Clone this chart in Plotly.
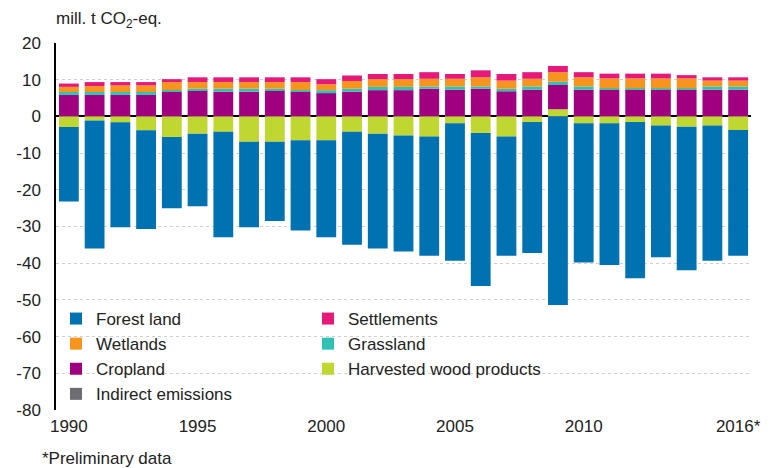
import plotly.graph_objects as go

years = list(range(1990, 2017))
tick_years = [1990, 1995, 2000, 2005, 2010, 2016]
tick_text = ["1990", "1995", "2000", "2005", "2010", "2016*"]
y_ticks = [20, 10, 0, -10, -20, -30, -40, -50, -60, -70, -80]
y_tick_text = ["20", "10", "0", "-10", "-20", "-30", "-40", "-50", "-60", "-70", "-80"]

forest_land = [-20.3, -34.9, -28.6, -26.9, -19.4, -19.8, -28.7, -23.3, -21.6, -24.6,
               -26.4, -30.8, -31.3, -31.6, -32.5, -37.4, -41.7, -32.5, -35.7, -51.4,
               -37.9, -38.6, -42.6, -35.9, -39.1, -36.8, -34.3]
settlements = [0.9, 1.1, 0.9, 0.9, 0.8, 1.3, 1.3, 1.3, 1.3, 1.3,
               1.4, 1.5, 1.4, 1.4, 1.8, 1.3, 1.9, 1.8, 1.8, 1.7,
               1.4, 1.3, 1.3, 1.3, 0.9, 0.9, 0.9]
wetlands = [1.4, 1.6, 1.8, 1.8, 2.2, 1.8, 1.8, 1.8, 1.8, 2.2,
            1.6, 2.1, 2.1, 2.1, 2.1, 2.1, 2.5, 2.2, 2.1, 2.6,
            2.5, 2.7, 2.7, 2.7, 2.7, 1.6, 1.6]
grassland = [0.8, 0.8, 0.8, 0.8, 0.5, 0.4, 0.8, 0.8, 0.4, 0.4,
             0.8, 0.8, 0.9, 0.9, 0.6, 0.9, 0.6, 0.7, 0.9, 0.9,
             0.9, 0.4, 0.4, 0.4, 0.4, 0.9, 0.9]
cropland = [5.8, 5.8, 5.8, 5.8, 6.6, 7.1, 6.7, 6.7, 7.1, 6.7,
            6.3, 6.7, 7.1, 7.1, 7.5, 7.2, 7.5, 6.8, 7.2, 6.6,
            7.2, 7.2, 7.2, 7.2, 7.2, 7.2, 7.2]
harvested_wood = [-2.9, -1.1, -1.6, -3.8, -5.6, -4.7, -4.2, -6.9, -6.9, -6.5,
                  -6.5, -4.2, -4.7, -5.2, -5.5, -1.9, -4.5, -5.5, -1.5, 1.9,
                  -1.9, -1.9, -1.5, -2.5, -2.8, -2.5, -3.7]
indirect = [0.05] * 27

# stacking order from zero outward; legend shows them reversed
series = [
    ("Indirect emissions", indirect, "#6D6E71"),
    ("Harvested wood products", harvested_wood, "#BFD730"),
    ("Cropland", cropland, "#A0007F"),
    ("Grassland", grassland, "#2EC1B4"),
    ("Wetlands", wetlands, "#F7941D"),
    ("Settlements", settlements, "#E5197A"),
    ("Forest land", forest_land, "#0072B1"),
]

fig = go.Figure()
for name, vals, color in series:
    fig.add_trace(go.Bar(x=years, y=vals, name=name,
                         marker=dict(color=color, line=dict(width=0))))

font = "Liberation Sans, Arial, sans-serif"
fig.update_layout(
    width=773, height=468,
    barmode="relative", bargap=0.23,
    margin=dict(l=56, r=15, t=43, b=58),
    plot_bgcolor="white", paper_bgcolor="white",
    font=dict(family=font, size=17, color="#222"),
    showlegend=True,
    legend=dict(orientation="h", traceorder="reversed",
                x=0.0, xanchor="left", y=0.297, yanchor="top",
                entrywidth=207, entrywidthmode="pixels",
                font=dict(size=17, color="#222"),
                bgcolor="rgba(0,0,0,0)", itemclick=False,
                tracegroupgap=0),
    xaxis=dict(range=[1989.5, 2016.5], tickvals=tick_years, ticktext=tick_text,
               showgrid=False, zeroline=False, showline=False, ticks="",
               tickfont=dict(size=17), ticklabelstandoff=4),
    yaxis=dict(range=[-80, 20], tickvals=y_ticks, ticktext=y_tick_text,
               showgrid=True, gridcolor="#D0D0D0",
               griddash="dot", gridwidth=1, zeroline=True, zerolinecolor="black",
               zerolinewidth=2, showline=True, linecolor="black", linewidth=1.5,
               ticks="", tickfont=dict(size=17), ticklabelstandoff=10),
    annotations=[
        dict(text="mill. t CO<sub>2</sub>-eq.", xref="paper", yref="paper",
             x=-0.003, y=1.0, yshift=23, xanchor="left", yanchor="middle",
             showarrow=False, font=dict(size=17, color="#222")),
        dict(text="*Preliminary data", xref="paper", yref="paper",
             x=-0.023, y=0, yshift=-48, xanchor="left", yanchor="middle",
             showarrow=False, font=dict(size=17, color="#222")),
    ],
)

fig.write_html("out.html",
               config={"displayModeBar": False},
               post_script="document.body.style.margin='0px';document.body.style.overflow='hidden';")
